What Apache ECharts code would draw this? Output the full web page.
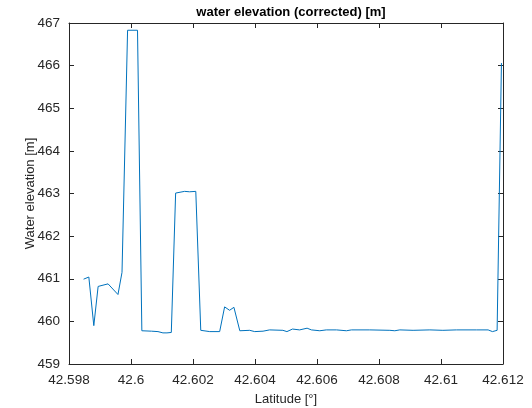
<!DOCTYPE html>
<html>
<head>
<meta charset="utf-8">
<script src="https://cdn.jsdelivr.net/npm/echarts@6/dist/echarts.min.js"></script>
<style>
  html, body { margin: 0; padding: 0; background: #fff; }
  #chart { width: 532px; height: 408px; }
</style>
</head>
<body>
<div id="chart"></div>
<script>
// latitude of each sample [deg]
const latitude = [
  42.59847, 42.59864, 42.59880, 42.59894, 42.59926, 42.59958, 42.59971, 42.59989,
  42.60021, 42.60035, 42.60066, 42.60087, 42.60103, 42.60116, 42.60130, 42.60144,
  42.60173, 42.60189, 42.60209, 42.60225, 42.60254, 42.60286, 42.60302, 42.60318,
  42.60332, 42.60351, 42.60383, 42.60399, 42.60426, 42.60447, 42.60490, 42.60503,
  42.60521, 42.60544, 42.60568, 42.60582, 42.60609, 42.60630, 42.60663, 42.60695,
  42.60711, 42.60770, 42.60835, 42.60851, 42.60867, 42.60910, 42.60964, 42.61006,
  42.61050, 42.61114, 42.61152, 42.61166, 42.61181, 42.61195
];
// corrected water elevation [m]
const elevation = [
  460.99, 461.04, 459.90, 460.82, 460.88, 460.63, 461.15, 466.83,
  466.83, 459.78, 459.77, 459.76, 459.73, 459.73, 459.74, 463.01,
  463.05, 463.04, 463.05, 459.79, 459.76, 459.76, 460.34, 460.26,
  460.33, 459.78, 459.79, 459.76, 459.77, 459.80, 459.79, 459.76,
  459.82, 459.80, 459.84, 459.80, 459.78, 459.80, 459.80, 459.78,
  459.80, 459.80, 459.79, 459.78, 459.80, 459.79, 459.80, 459.79,
  459.80, 459.80, 459.80, 459.76, 459.79, 466.06
];
const xMin = 42.598, xMax = 42.612, xStep = 0.002;
const yMin = 459, yMax = 467, yStep = 1;

const font = 'Liberation Sans, Arial, Helvetica, sans-serif';
const axisColor = '#262626';

let myChart = echarts.init(document.getElementById('chart'));
let points = latitude.map((v, i) => [v, elevation[i]]);

// shared bits for the box axes
let lineStyle = { color: axisColor, width: 1 };
let tick = { show: true, inside: true, length: 5, lineStyle: lineStyle };

let option = {
  backgroundColor: '#fff',
  animation: false,
  title: {
    text: 'water elevation (corrected) [m]',
    left: 286,
    textAlign: 'center',
    top: 1,
    textStyle: { fontFamily: font, fontSize: 13, fontWeight: 'bold', color: '#000' }
  },
  grid: { left: 69, right: 29, top: 23, bottom: 44, outerBoundsMode: 'none' },
  xAxis: [
    {
      type: 'value',
      min: xMin, max: xMax, interval: xStep,
      name: 'Latitude [°]',
      nameLocation: 'middle',
      nameGap: 29,
      nameMoveOverlap: false,
      nameTextStyle: { fontFamily: font, fontSize: 13, color: axisColor },
      axisLine: { show: true, lineStyle: lineStyle },
      axisTick: tick,
      splitLine: { show: false },
      axisLabel: {
        fontFamily: font, fontSize: 13.5, color: axisColor, margin: 9,
        formatter: v => String(Number(v.toFixed(3)))
      }
    },
    {
      type: 'value', position: 'top',
      min: xMin, max: xMax, interval: xStep,
      axisLine: { show: true, lineStyle: lineStyle },
      axisTick: tick,
      axisLabel: { show: false },
      splitLine: { show: false }
    }
  ],
  yAxis: [
    {
      type: 'value',
      min: yMin, max: yMax, interval: yStep,
      name: 'Water elevation [m]',
      nameLocation: 'middle',
      nameGap: 32,
      nameMoveOverlap: false,
      nameTextStyle: { fontFamily: font, fontSize: 13, color: axisColor },
      axisLine: { show: true, lineStyle: lineStyle },
      axisTick: tick,
      splitLine: { show: false },
      axisLabel: { fontFamily: font, fontSize: 13.5, color: axisColor, margin: 9 }
    },
    {
      type: 'value', position: 'right',
      min: yMin, max: yMax, interval: yStep,
      axisLine: { show: true, lineStyle: lineStyle },
      axisTick: tick,
      axisLabel: { show: false },
      splitLine: { show: false }
    }
  ],
  series: [
    {
      name: 'water elevation',
      type: 'line',
      data: points,
      showSymbol: false,
      lineStyle: { color: '#0072BD', width: 1 },
      itemStyle: { color: '#0072BD' }
    }
  ]
};
myChart.setOption(option);
</script>
</body>
</html>
